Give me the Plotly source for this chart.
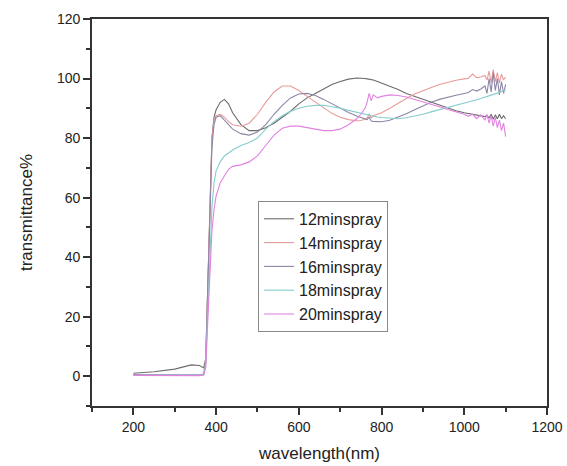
import plotly.graph_objects as go

wavelength = [200, 250, 300, 340, 360, 370, 375, 380, 385, 390,
              395, 400, 410, 420, 430, 440, 460, 480, 500, 520,
              540, 560, 580, 600, 620, 640, 660, 680, 700, 720,
              740, 750, 760, 765, 770, 775, 780, 790, 800, 820,
              840, 860, 880, 900, 920, 940, 960, 980, 1000, 1010,
              1020, 1030, 1040, 1050, 1055, 1060, 1065, 1070, 1075, 1080,
              1085, 1090, 1095, 1100]

t12 = [1.0, 1.5, 2.4, 3.8, 3.6, 2.8, 6, 32, 62, 80,
       87, 89.5, 92, 93, 91.5, 88.5, 84.5, 82.5, 82.5, 83.5,
       85, 87, 89, 91.5, 93.5, 95, 96.5, 98, 99, 99.8,
       100.2, 100.2, 100, 99.9, 99.8, 99.7, 99.5, 99, 98.5, 97.5,
       96.3, 95, 94, 93, 92, 91, 90, 89.2, 88.5, 88.2,
       88, 87.7, 87.4, 87.2, 87.6, 86.8, 88, 86.3, 87.8, 86.5,
       88, 86.5, 87.5, 86.5]

t14 = [0.6, 0.5, 0.5, 0.5, 0.5, 0.8, 5, 30, 60, 80,
       86, 87.5, 88, 87, 85.5, 84.5, 84, 85, 88, 92,
       95.5, 97.5, 97.5, 96, 94, 92, 90, 88.3, 87, 86.2,
       85.8, 85.9, 86.3, 86.8, 88, 86.8, 87.5, 88, 88.5, 90,
       91.8, 93.3, 94.8, 96, 97, 98, 98.8, 99.4, 99.9, 100.1,
       101.5, 100.3, 100.5, 101, 99.5, 102.5, 98.5, 103, 99, 102,
       98.5, 101.5, 99.5, 100.5]

t16 = [0.5, 0.4, 0.4, 0.4, 0.4, 0.6, 5, 30, 58, 77,
       84.5, 87, 87.5, 86, 84.5, 83, 81.5, 81, 82, 84.5,
       88, 91, 93.5, 94.8, 95, 94.3, 93, 91.5, 90, 88.6,
       87.4, 86.9, 86.4, 86.2, 87, 85.7, 85.6, 85.5, 85.5, 86,
       87, 88.2, 89.5, 90.8, 92, 93, 93.8, 94.4, 95, 95.3,
       96.3, 95.8, 96.5, 97.5, 95, 100, 95.5, 102, 96, 100,
       94.5, 99, 95, 98]

t18 = [0.3, 0.3, 0.3, 0.3, 0.3, 0.5, 4, 24, 44, 57,
       65, 69, 72, 74, 75, 76, 77.5, 78.5, 80, 83,
       85.5, 87.5, 89, 90, 90.7, 91, 91, 90.6, 90, 89.3,
       88.6, 88.3, 88, 87.8, 87.7, 87.6, 87.4, 87.1, 86.9, 86.6,
       86.5, 86.8, 87.3, 88, 88.8, 89.5, 90.3, 91, 91.8, 92.1,
       92.5, 92.9, 93.3, 93.7, 94, 94.2, 94.4, 94.6, 94.9, 95.1,
       95.4, 95.7, 96, 96.3]

t20 = [0.3, 0.2, 0.2, 0.2, 0.2, 0.4, 3, 19, 37, 49,
       56, 60.5, 65, 67.5, 69.5, 70.5, 71, 72, 74, 77.5,
       81, 83.3, 84, 84, 83.5, 82.8, 82.5, 82.5, 83, 84.5,
       86.5, 88, 90, 92, 95, 92.5, 94.5, 93.5, 94, 94.5,
       94.3, 93.8, 93, 92.3, 91.5, 90.5, 89.6, 88.8, 88, 87.3,
       88, 86.5, 87.8, 86, 88, 85, 87.5, 84, 87, 83.5,
       86, 82.5, 85, 80.5]

series_names = ["12minspray", "14minspray", "16minspray", "18minspray", "20minspray"]
series_values = [t12, t14, t16, t18, t20]
series_colors = ["#6e6a6a", "#e89a9a", "#8c86a6", "#86cccc", "#e282e2"]

x_ticks = [200, 400, 600, 800, 1000, 1200]
y_ticks = [0, 20, 40, 60, 80, 100, 120]

fig = go.Figure()
for name, vals, col in zip(series_names, series_values, series_colors):
    fig.add_trace(go.Scatter(x=wavelength, y=vals, mode="lines", name=name,
                             line=dict(color=col, width=1.1)))

font_family = "Liberation Sans, Arial, sans-serif"
axis_common = dict(showline=True, linecolor="#333333", linewidth=1.6, mirror=True,
                   showgrid=False, zeroline=False, ticks="outside", ticklen=7,
                   tickwidth=1.5, tickcolor="#333333", automargin=False,
                   tickfont=dict(family=font_family, size=14, color="#222222"))

fig.update_layout(
    width=567, height=466,
    margin=dict(l=92, r=20, t=19, b=60),
    paper_bgcolor="white", plot_bgcolor="white",
    font=dict(family=font_family, color="#222222"),
    xaxis=dict(range=[100, 1200], tickvals=x_ticks,
               minor=dict(dtick=100, tick0=100, ticks="outside", ticklen=4,
                          tickwidth=1.5, tickcolor="#333333"),
               title=dict(text="wavelength(nm)", font=dict(size=17), standoff=14),
               **axis_common),
    yaxis=dict(range=[-10, 120], tickvals=y_ticks,
               minor=dict(dtick=10, tick0=-10, ticks="outside", ticklen=4,
                          tickwidth=1.5, tickcolor="#333333"),
               title=dict(text="transmittance%", font=dict(size=17), standoff=20),
               **axis_common),
    legend=dict(x=0.365, y=0.53, xanchor="left", yanchor="top",
                bgcolor="white", bordercolor="#888888", borderwidth=1,
                font=dict(family=font_family, size=16, color="#222222"),
                tracegroupgap=0, itemwidth=30),
    showlegend=True,
)

fig.write_html("out.html", config={"displayModeBar": False},
               post_script="document.body.style.margin='0px';document.body.style.overflow='hidden';")
